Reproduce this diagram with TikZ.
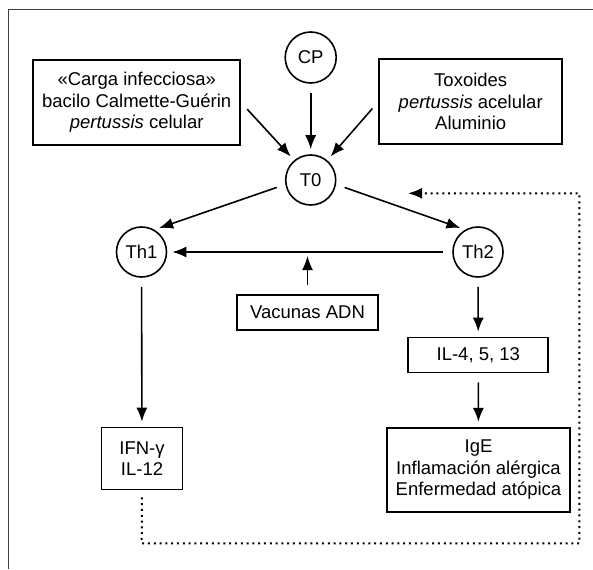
\documentclass[tikz,border=0pt]{standalone}
\usepackage{fontspec}
\setmainfont{Liberation Sans}
\usetikzlibrary{arrows.meta}
\begin{document}
\begin{tikzpicture}[x=1pt,y=-1pt,>={Latex[length=14pt,width=11pt]},
  caja/.style={draw,line width=1.7pt,align=center,inner sep=0pt},
  celula/.style={circle,draw,line width=1.6pt,minimum size=50pt,inner sep=0pt},
  flecha/.style={->,line width=1.6pt,shorten <=9pt,shorten >=5pt},
  punteado/.style={->,line width=2pt,dash pattern=on 2pt off 3.8pt,shorten <=7pt},
  font=\fontsize{18.5}{21.5}\selectfont]
\useasboundingbox (0,0) rectangle (593,569);
\draw[line width=1.6pt,black!75] (8.3,569) -- (8.3,9.4) -- (593,9.4);
\path
(310.7,57.5)  node[celula,minimum size=51pt] (cp) {CP}
(136.7,102.5) node[caja,minimum width=207pt,minimum height=85pt] (carga)
   {«Carga infecciosa»\\bacilo Calmette-Guérin\\\textit{pertussis} celular}
(470.7,101.7) node[caja,minimum width=183pt,minimum height=85pt] (tox)
   {Toxoides\\\textit{pertussis} acelular\\Aluminio}
(310.7,180)   node[celula] (t0) {T0}
(141.5,252)   node[celula] (th1) {Th1}
(478,252)     node[celula] (th2) {Th2}
(307.5,312.5) node[caja,minimum width=141pt,minimum height=35pt] (vac) {Vacunas ADN}
(478.3,355)   node[caja,minimum width=140pt,minimum height=35pt] (il) {IL-4, 5, 13}
(142,458.5)   node[caja,minimum width=81pt,minimum height=62pt] (ifn) {IFN-γ\\IL-12}
(478.5,469.7) node[caja,minimum width=183pt,minimum height=84pt] (ige)
   {IgE\\Inflamación alérgica\\Enfermedad atópica};
\coordinate (d1) at (141.7,543.3);
\coordinate (d2) at (579.3,543.3);
\coordinate (d3) at (579.3,193.3);
\coordinate (d4) at (408,193.3);
\draw[flecha] (cp)--(t0);
\draw[flecha] (carga.east)--(t0.130);
\draw[flecha] (tox.west)--(t0.50);
\draw[flecha] (t0.190)--(th1.60);
\draw[flecha] (t0.-10)--(th2.120);
\draw[flecha] (th2)--(th1);
\draw[flecha,shorten >=4pt] (vac)--(vac |- th2);
\draw[flecha] (th1)--(ifn);
\draw[flecha] (th2)--(il);
\draw[flecha] (il)--(ige);
\draw[punteado] (ifn.south)--(d1)--(d2)--(d3)--(d4);
\end{tikzpicture}
\end{document}
